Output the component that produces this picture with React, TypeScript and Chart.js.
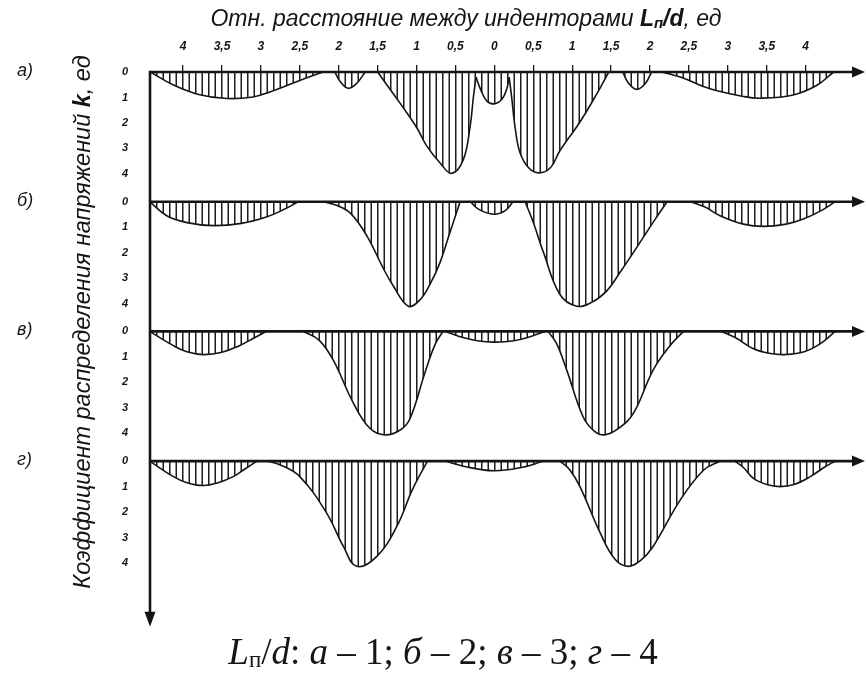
import { useEffect, useRef } from "react";
import { Chart, registerables } from "chart.js";

Chart.register(...registerables);

type Pt = [number, number];

// Horizontal axis: signed distance from the centre between the indenters,
// labelled with its magnitude on both sides.
const X_MIN = -4.425;
const X_MAX = 4.57;
const X_TICKS = [-4, -3.5, -3, -2.5, -2, -1.5, -1, -0.5, 0, 0.5, 1, 1.5, 2, 2.5, 3, 3.5, 4];

// Stress distribution coefficient k, drawn downwards in every panel.
const K_TICKS = [0, 1, 2, 3, 4];
const K_MAX = 5.09;

const PANEL_LABELS = ["а)", "б)", "в)", "г)"];
const Y_IDS = ["ya", "yb", "yc", "yd"];

// Each lobe is one region of k > 0, as [x, k] pairs.
const LOBES_A: Pt[][] = [
  [[-4.42, 0], [-4.13, 0.5], [-3.8, 0.88], [-3.44, 1.04], [-3.1, 0.98], [-2.9, 0.8], [-2.5, 0.33], [-2.2, 0]],
  [[-2.05, 0], [-1.98, 0.38], [-1.88, 0.64], [-1.77, 0.45], [-1.66, 0]],
  [[-1.5, 0], [-1.38, 0.51], [-1.21, 1.23], [-1.0, 2.17], [-0.87, 2.9], [-0.7, 3.56], [-0.55, 3.98], [-0.4, 3.45], [-0.31, 2.1], [-0.27, 1.0], [-0.235, 0.2]],
  [[-0.235, 0.2], [-0.18, 0.66], [-0.1, 1.13], [-0.01, 1.25], [0.095, 1.08], [0.16, 0.66], [0.19, 0.2]],
  [[0.19, 0.2], [0.22, 0.93], [0.27, 2.25], [0.33, 3.17], [0.44, 3.76], [0.57, 3.96], [0.72, 3.76], [0.84, 3.1], [1.1, 1.96], [1.32, 0.84], [1.47, 0]],
  [[1.65, 0], [1.72, 0.42], [1.83, 0.68], [1.94, 0.45], [2.02, 0]],
  [[2.15, 0], [2.39, 0.2], [2.77, 0.66], [3.2, 0.96], [3.42, 1.03], [3.84, 0.9], [4.14, 0.53], [4.36, 0]],
];

const LOBES_B: Pt[][] = [
  [[-4.43, 0], [-4.21, 0.55], [-3.95, 0.82], [-3.61, 0.94], [-3.25, 0.85], [-2.93, 0.6], [-2.7, 0.3], [-2.52, 0]],
  [[-2.2, 0], [-2.02, 0.15], [-1.85, 0.45], [-1.64, 1.33], [-1.43, 2.6], [-1.3, 3.3], [-1.105, 4.1], [-0.955, 3.85], [-0.82, 3.2], [-0.7, 2.4], [-0.57, 1.2], [-0.44, 0]],
  [[-0.31, 0], [-0.2, 0.3], [-0.01, 0.49], [0.14, 0.35], [0.24, 0]],
  [[0.395, 0], [0.5, 0.81], [0.63, 1.98], [0.845, 3.65], [1.06, 4.1], [1.25, 3.95], [1.445, 3.5], [1.62, 2.75], [1.79, 1.98], [2.04, 0.81], [2.22, 0]],
  [[2.52, 0], [2.7, 0.2], [2.9, 0.55], [3.2, 0.88], [3.46, 0.97], [3.75, 0.88], [3.97, 0.68], [4.2, 0.35], [4.38, 0]],
];

const LOBES_C: Pt[][] = [
  [[-4.43, 0], [-4.13, 0.55], [-3.95, 0.8], [-3.74, 0.91], [-3.5, 0.82], [-3.27, 0.55], [-3.1, 0.28], [-2.93, 0]],
  [[-2.455, 0], [-2.25, 0.35], [-2.07, 1.13], [-1.81, 2.82], [-1.6, 3.8], [-1.405, 4.06], [-1.2, 3.85], [-1.08, 3.4], [-0.89, 1.6], [-0.76, 0.5], [-0.66, 0]],
  [[-0.63, 0], [-0.45, 0.2], [-0.2, 0.38], [0.01, 0.42], [0.25, 0.37], [0.47, 0.2], [0.65, 0]],
  [[0.69, 0], [0.8, 0.48], [0.93, 1.52], [1.14, 3.35], [1.28, 3.9], [1.42, 4.06], [1.6, 3.8], [1.79, 3.2], [2.04, 1.52], [2.26, 0.55], [2.43, 0]],
  [[2.92, 0], [3.1, 0.25], [3.33, 0.68], [3.55, 0.87], [3.74, 0.91], [3.98, 0.8], [4.19, 0.48], [4.38, 0]],
];

const LOBES_D: Pt[][] = [
  [[-4.43, 0], [-4.13, 0.6], [-3.95, 0.85], [-3.74, 0.96], [-3.55, 0.85], [-3.35, 0.6], [-3.2, 0.3], [-3.05, 0]],
  [[-2.925, 0], [-2.75, 0.15], [-2.5, 0.61], [-2.155, 2.04], [-1.94, 3.35], [-1.77, 4.13], [-1.51, 3.74], [-1.255, 2.57], [-1.05, 1.1], [-0.86, 0]],
  [[-0.635, 0], [-0.4, 0.2], [-0.01, 0.38], [0.35, 0.25], [0.63, 0]],
  [[0.845, 0], [0.97, 0.35], [1.1, 1.0], [1.36, 2.82], [1.55, 3.85], [1.72, 4.13], [1.88, 3.9], [2.04, 3.35], [2.39, 1.52], [2.69, 0.35], [2.9, 0]],
  [[3.09, 0], [3.2, 0.25], [3.33, 0.68], [3.5, 0.92], [3.67, 1.0], [3.85, 0.92], [4.06, 0.61], [4.25, 0.22], [4.38, 0]],
];

const PANELS = [LOBES_A, LOBES_B, LOBES_C, LOBES_D];

const SANS = '"Liberation Sans", Arial, sans-serif';
const SERIF = '"Liberation Serif", "Times New Roman", serif';
const INK = "#151515";

type Run = { t: string; font: string; dy?: number };

function drawRuns(ctx: CanvasRenderingContext2D, runs: Run[], x: number, y: number) {
  const widths = runs.map((r) => {
    ctx.font = r.font;
    return ctx.measureText(r.t).width;
  });
  const total = widths.reduce((a, b) => a + b, 0);
  let cx = x - total / 2;
  ctx.textAlign = "left";
  ctx.textBaseline = "alphabetic";
  runs.forEach((r, i) => {
    ctx.font = r.font;
    ctx.fillText(r.t, cx, y + (r.dy || 0));
    cx += widths[i];
  });
}

function makeHatch(ctx: CanvasRenderingContext2D): CanvasPattern | string {
  const c = document.createElement("canvas");
  c.width = 13;
  c.height = 4;
  const g = c.getContext("2d");
  if (!g) return "rgba(0,0,0,0.2)";
  g.fillStyle = "#1c1c1c";
  g.fillRect(0, 0, 1.5, 4);
  g.fillRect(6.5, 0, 1.5, 4);
  return ctx.createPattern(c, "repeat") || "rgba(0,0,0,0.2)";
}

const decorations = {
  id: "decorations",
  afterDraw(chart: Chart) {
    const ctx = chart.ctx;
    const area = chart.chartArea;
    const tipX = chart.width - 1;
    ctx.save();
    ctx.strokeStyle = INK;
    ctx.fillStyle = INK;

    // zero line of every panel, with an arrow on the right
    Y_IDS.forEach((id, i) => {
      const y = chart.scales[id].getPixelForValue(0);
      ctx.lineWidth = 2.6;
      ctx.beginPath();
      ctx.moveTo(area.left, y);
      ctx.lineTo(tipX - 10, y);
      ctx.stroke();
      ctx.beginPath();
      ctx.moveTo(tipX, y);
      ctx.lineTo(tipX - 13, y - 5.5);
      ctx.lineTo(tipX - 13, y + 5.5);
      ctx.closePath();
      ctx.fill();

      ctx.font = `italic 18px ${SANS}`;
      ctx.textAlign = "left";
      ctx.textBaseline = "middle";
      ctx.fillText(PANEL_LABELS[i], 17, y - 1);
    });

    // vertical axis with the arrow pointing down
    const top = chart.scales[Y_IDS[0]].getPixelForValue(0);
    const tipY = area.bottom + 36;
    ctx.lineWidth = 2.6;
    ctx.beginPath();
    ctx.moveTo(area.left, top - 1.3);
    ctx.lineTo(area.left, tipY - 10);
    ctx.stroke();
    ctx.beginPath();
    ctx.moveTo(area.left, tipY);
    ctx.lineTo(area.left - 5.5, tipY - 15);
    ctx.lineTo(area.left + 5.5, tipY - 15);
    ctx.closePath();
    ctx.fill();

    // horizontal axis title
    drawRuns(
      ctx,
      [
        { t: "Отн. расстояние между инденторами ", font: `italic 23px ${SANS}` },
        { t: "L", font: `italic bold 23px ${SANS}` },
        { t: "п", font: `italic bold 15px ${SANS}`, dy: 2 },
        { t: "/d", font: `italic bold 23px ${SANS}` },
        { t: ", ед", font: `italic 23px ${SANS}` },
      ],
      466,
      26
    );

    // vertical axis title
    ctx.save();
    ctx.translate(90, 322);
    ctx.rotate(-Math.PI / 2);
    drawRuns(
      ctx,
      [
        { t: "Коэффициент распределения напряжений ", font: `italic 23.5px ${SANS}` },
        { t: "k", font: `italic bold 23.5px ${SANS}` },
        { t: ", ед", font: `italic 23.5px ${SANS}` },
      ],
      0,
      0
    );
    ctx.restore();

    // caption
    const big = 37;
    drawRuns(
      ctx,
      [
        { t: "L", font: `italic ${big}px ${SERIF}` },
        { t: "п", font: `23px ${SERIF}`, dy: 3 },
        { t: "/", font: `${big}px ${SERIF}` },
        { t: "d", font: `italic ${big}px ${SERIF}` },
        { t: ": ", font: `${big}px ${SERIF}` },
        { t: "а", font: `italic ${big}px ${SERIF}` },
        { t: " – 1; ", font: `${big}px ${SERIF}` },
        { t: "б", font: `italic ${big}px ${SERIF}` },
        { t: " – 2; ", font: `${big}px ${SERIF}` },
        { t: "в", font: `italic ${big}px ${SERIF}` },
        { t: " – 3; ", font: `${big}px ${SERIF}` },
        { t: "г", font: `italic ${big}px ${SERIF}` },
        { t: " – 4", font: `${big}px ${SERIF}` },
      ],
      443,
      664
    );
    ctx.restore();
  },
};

function fmtDistance(v: number): string {
  return String(Math.abs(v)).replace(".", ",");
}

export default function App() {
  const canvasRef = useRef<HTMLCanvasElement | null>(null);

  useEffect(() => {
    document.body.style.margin = "0";
    const canvas = canvasRef.current;
    if (!canvas) return;
    const ctx = canvas.getContext("2d");
    if (!ctx) return;
    const hatch = makeHatch(ctx);

    const datasets: any[] = [];
    PANELS.forEach((lobes, i) => {
      lobes.forEach((lobe) => {
        datasets.push({
          type: "line",
          data: lobe.map(([x, k]) => ({ x, y: k })),
          xAxisID: "x",
          yAxisID: Y_IDS[i],
          borderColor: INK,
          borderWidth: 1.6,
          pointRadius: 0,
          fill: "origin",
          backgroundColor: hatch,
          tension: 0.4,
          clip: false,
        });
      });
    });

    const yScale = (i: number) => ({
      type: "linear",
      position: "left",
      stack: "panels",
      stackWeight: 1,
      weight: 10 - i,
      reverse: true,
      min: 0,
      max: K_MAX,
      afterFit(s: any) {
        s.width = 150;
      },
      afterBuildTicks(s: any) {
        s.ticks = K_TICKS.map((value) => ({ value }));
      },
      ticks: {
        color: INK,
        padding: 22,
        font: { family: SANS, size: 11, weight: "bold", style: "italic" },
      },
      grid: { display: false, drawTicks: false },
      border: { display: false },
    });

    const scales: any = {
      x: {
        type: "linear",
        position: "top",
        min: X_MIN,
        max: X_MAX,
        afterFit(s: any) {
          s.height = 72;
        },
        afterBuildTicks(s: any) {
          s.ticks = X_TICKS.map((value) => ({ value }));
        },
        ticks: {
          color: INK,
          padding: 11,
          autoSkip: false,
          maxRotation: 0,
          callback: (v: number | string) => fmtDistance(Number(v)),
          font: { family: SANS, size: 12, weight: "bold", style: "italic" },
        },
        grid: { drawOnChartArea: false, drawTicks: true, tickLength: 7, color: INK, lineWidth: 1.3 },
        border: { display: false },
      },
    };
    Y_IDS.forEach((id, i) => {
      scales[id] = yScale(i);
    });

    const chart = new Chart(ctx, {
      type: "line",
      data: { datasets },
      options: {
        responsive: false,
        animation: false,
        layout: { padding: { top: 0, left: 0, right: 16, bottom: 83.2 } },
        plugins: { legend: { display: false }, tooltip: { enabled: false } },
        scales,
      },
      plugins: [decorations],
    } as any);

    return () => chart.destroy();
  }, []);

  return (
    <div style={{ position: "absolute", left: 0, top: 0, width: 866, height: 674, background: "#fff" }}>
      <canvas ref={canvasRef} width={866} height={674} style={{ display: "block" }} />
    </div>
  );
}
